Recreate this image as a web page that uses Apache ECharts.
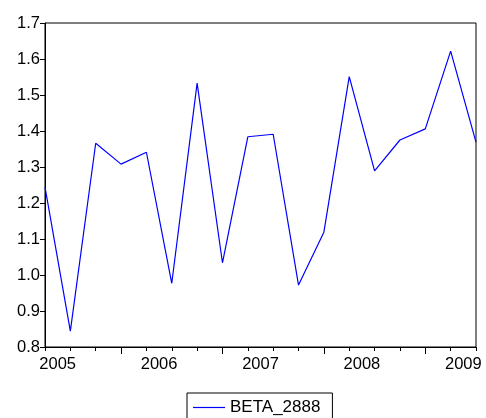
<!DOCTYPE html>
<html>
<head>
<meta charset="utf-8">
<script src="https://cdn.jsdelivr.net/npm/echarts@6/dist/echarts.min.js"></script>
<style>
html,body{margin:0;padding:0;background:#fff;}
#chart{width:486px;height:418px;}
</style>
</head>
<body>
<div id="chart"></div>
<script>
// Quarterly observations 2005Q1 .. 2009Q2
var categories = ['2005Q1','2005Q2','2005Q3','2005Q4','2006Q1','2006Q2','2006Q3','2006Q4',
  '2007Q1','2007Q2','2007Q3','2007Q4','2008Q1','2008Q2','2008Q3','2008Q4','2009Q1','2009Q2'];
var beta2888 = [1.244, 0.844, 1.366, 1.308, 1.341, 0.977, 1.533, 1.034,
  1.384, 1.391, 0.972, 1.119, 1.551, 1.289, 1.375, 1.406, 1.622, 1.369];
var seriesName = 'BETA_2888';
var yearLabels = ['2005','2006','2007','2008','2009'];
var yearLabelPos = [0.5, 4.5, 8.5, 12.5, 16.5];
var yearTickPos = [3, 7, 11, 15];

var font = 'Liberation Sans, Arial, sans-serif';
var chart = echarts.init(document.getElementById('chart'), null, {renderer:'canvas'});
var data = beta2888.map(function(v, i){ return [i, v]; });
var n = categories.length - 1;

chart.setOption({
  backgroundColor: '#fff',
  animation: false,
  textStyle: {fontFamily: font, color: '#000'},
  grid: {left: 45, right: 10, top: 23, bottom: 71, show: true, borderColor: '#000', borderWidth: 1},
  xAxis: [{
    type: 'value', min: 0, max: n, interval: 1, position: 'bottom',
    axisLine: {show: true, lineStyle: {color: '#000', width: 1}},
    axisTick: {show: true, inside: false, length: 4, lineStyle: {color: '#000'}},
    axisLabel: {show: false},
    splitLine: {show: false}
  }, {
    type: 'value', min: 0, max: n, position: 'bottom',
    axisLine: {show: false},
    axisTick: {show: true, inside: false, length: 7, customValues: yearTickPos, lineStyle: {color: '#000'}},
    axisLabel: {show: true, customValues: yearLabelPos, fontSize: 16.5, fontFamily: font, color: '#000', margin: 9,
      formatter: function(v){ var k = yearLabelPos.indexOf(v); return k >= 0 ? yearLabels[k] : ''; }},
    splitLine: {show: false}
  }],
  yAxis: {
    type: 'value', min: 0.8, max: 1.7, interval: 0.1,
    axisLine: {show: true, lineStyle: {color: '#000', width: 1}},
    axisTick: {show: true, inside: false, length: 5, lineStyle: {color: '#000'}},
    axisLabel: {fontSize: 16.5, fontFamily: font, color: '#000', margin: 5,
      formatter: function(v){ return v.toFixed(1); }},
    splitLine: {show: false}
  },
  legend: {
    left: 187, top: 393,
    data: [{name: seriesName, icon: 'rect', itemStyle: {color: '#0000ff'}}],
    itemWidth: 32, itemHeight: 1.2,
    padding: [6, 12, 8, 6],
    borderColor: '#000', borderWidth: 1,
    textStyle: {fontSize: 17, fontFamily: font, color: '#000'}
  },
  series: [{
    name: seriesName, type: 'line', xAxisIndex: 0,
    data: data, symbol: 'none', showSymbol: false,
    lineStyle: {color: '#0000ff', width: 1.2},
    itemStyle: {color: '#0000ff'}
  }]
});
</script>
</body>
</html>
